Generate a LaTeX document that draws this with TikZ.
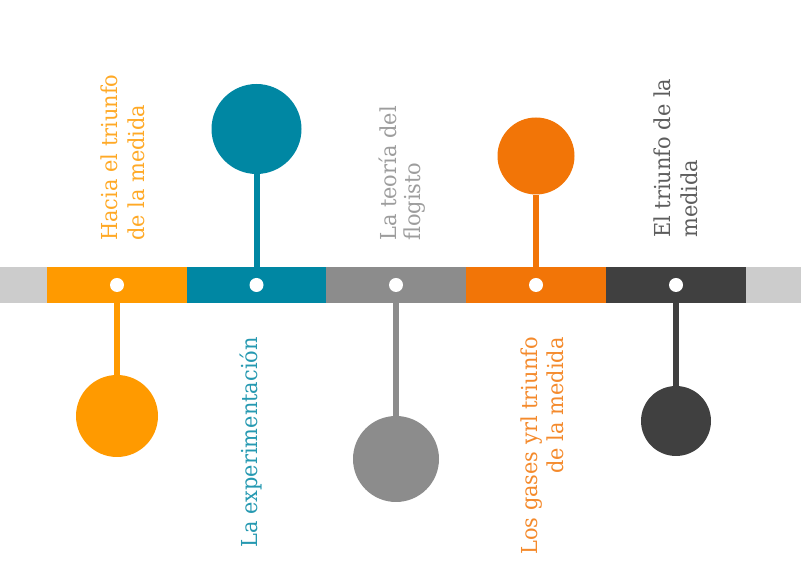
\documentclass[tikz,border=0pt]{standalone}
\usepackage{fontspec}
\setmainfont{DejaVu Serif}[FakeStretch=0.95]
\usepackage{xcolor}
\definecolor{barlight}{HTML}{CCCCCC}
\definecolor{tlorange}{HTML}{FF9A00}
\definecolor{tlteal}{HTML}{0087A3}
\definecolor{tlgray}{HTML}{8C8C8C}
\definecolor{tldkorange}{HTML}{F27507}
\definecolor{tldark}{HTML}{404040}

\begin{document}
\begin{tikzpicture}[x=1pt,y=1pt,
  seg/.style={fill=#1},
  ball/.style={circle,fill=#1,inner sep=0},
  stem/.style={draw=#1,line width=6pt},
  dot/.style={circle,fill=white,inner sep=0,minimum size=14pt},
  lbl/.style={rotate=90,inner sep=0,font=\fontsize{22}{27}\selectfont,text=#1!85}]
\useasboundingbox (0,0) rectangle (801,577);
% the bar
\fill[seg=barlight] (0,274) rectangle (47,310);
\fill[seg=tlorange] (47,274) rectangle (187,310);
\fill[seg=tlteal] (187,274) rectangle (326,310);
\fill[seg=tlgray] (326,274) rectangle (466,310);
\fill[seg=tldkorange] (466,274) rectangle (606,310);
\fill[seg=tldark] (606,274) rectangle (746,310);
\fill[seg=barlight] (746,274) rectangle (801,310);
\coordinate (d1) at (117,292);
\coordinate (d2) at (256.5,292);
\coordinate (d3) at (396,292);
\coordinate (d4) at (536,292);
\coordinate (d5) at (676,292);
% the balls
\node[ball=tlorange,minimum size=82pt] (b1) at (117,161) {};
\node[ball=tlteal,minimum size=90pt] (b2) at (256.5,448) {};
\node[ball=tlgray,minimum size=86pt] (b3) at (396,118) {};
\node[ball=tldkorange,minimum size=77pt] (b4) at (536,421) {};
\node[ball=tldark,minimum size=70pt] (b5) at (676,156) {};
\draw[stem=tlorange] (d1) -- (b1);
\draw[stem=tlteal] (d2) -- (b2);
\draw[stem=tlgray] (d3) -- (b3);
\draw[stem=tldkorange] (d4) -- (b4);
\draw[stem=tldark] (d5) -- (b5);
\node[dot] (p1) at (d1) {};
\node[dot] (p2) at (d2) {};
\node[dot] (p3) at (d3) {};
\node[dot] (p4) at (d4) {};
\node[dot] (p5) at (d5) {};
% the labels (base = last line)
\node[lbl=tlorange,align=left,anchor=base west] (t1) at (144,336) {Hacia el triunfo\\de la medida};
\node[lbl=tlteal,anchor=base east] (t2) at (257,240) {La experimentación};
\node[lbl=tlgray,align=left,anchor=base west,font=\fontsize{22}{24}\selectfont] (t3) at (420,336) {La teoría del\\flogisto};
\node[lbl=tldkorange,align=right,anchor=base east,font=\fontsize{22}{26}\selectfont] (t4) at (563,240) {Los gases yrl triunfo\\de la medida};
\node[lbl=tldark,align=left,anchor=base west] (t5) at (697,339) {El triunfo de la\\medida};
\end{tikzpicture}
\end{document}
